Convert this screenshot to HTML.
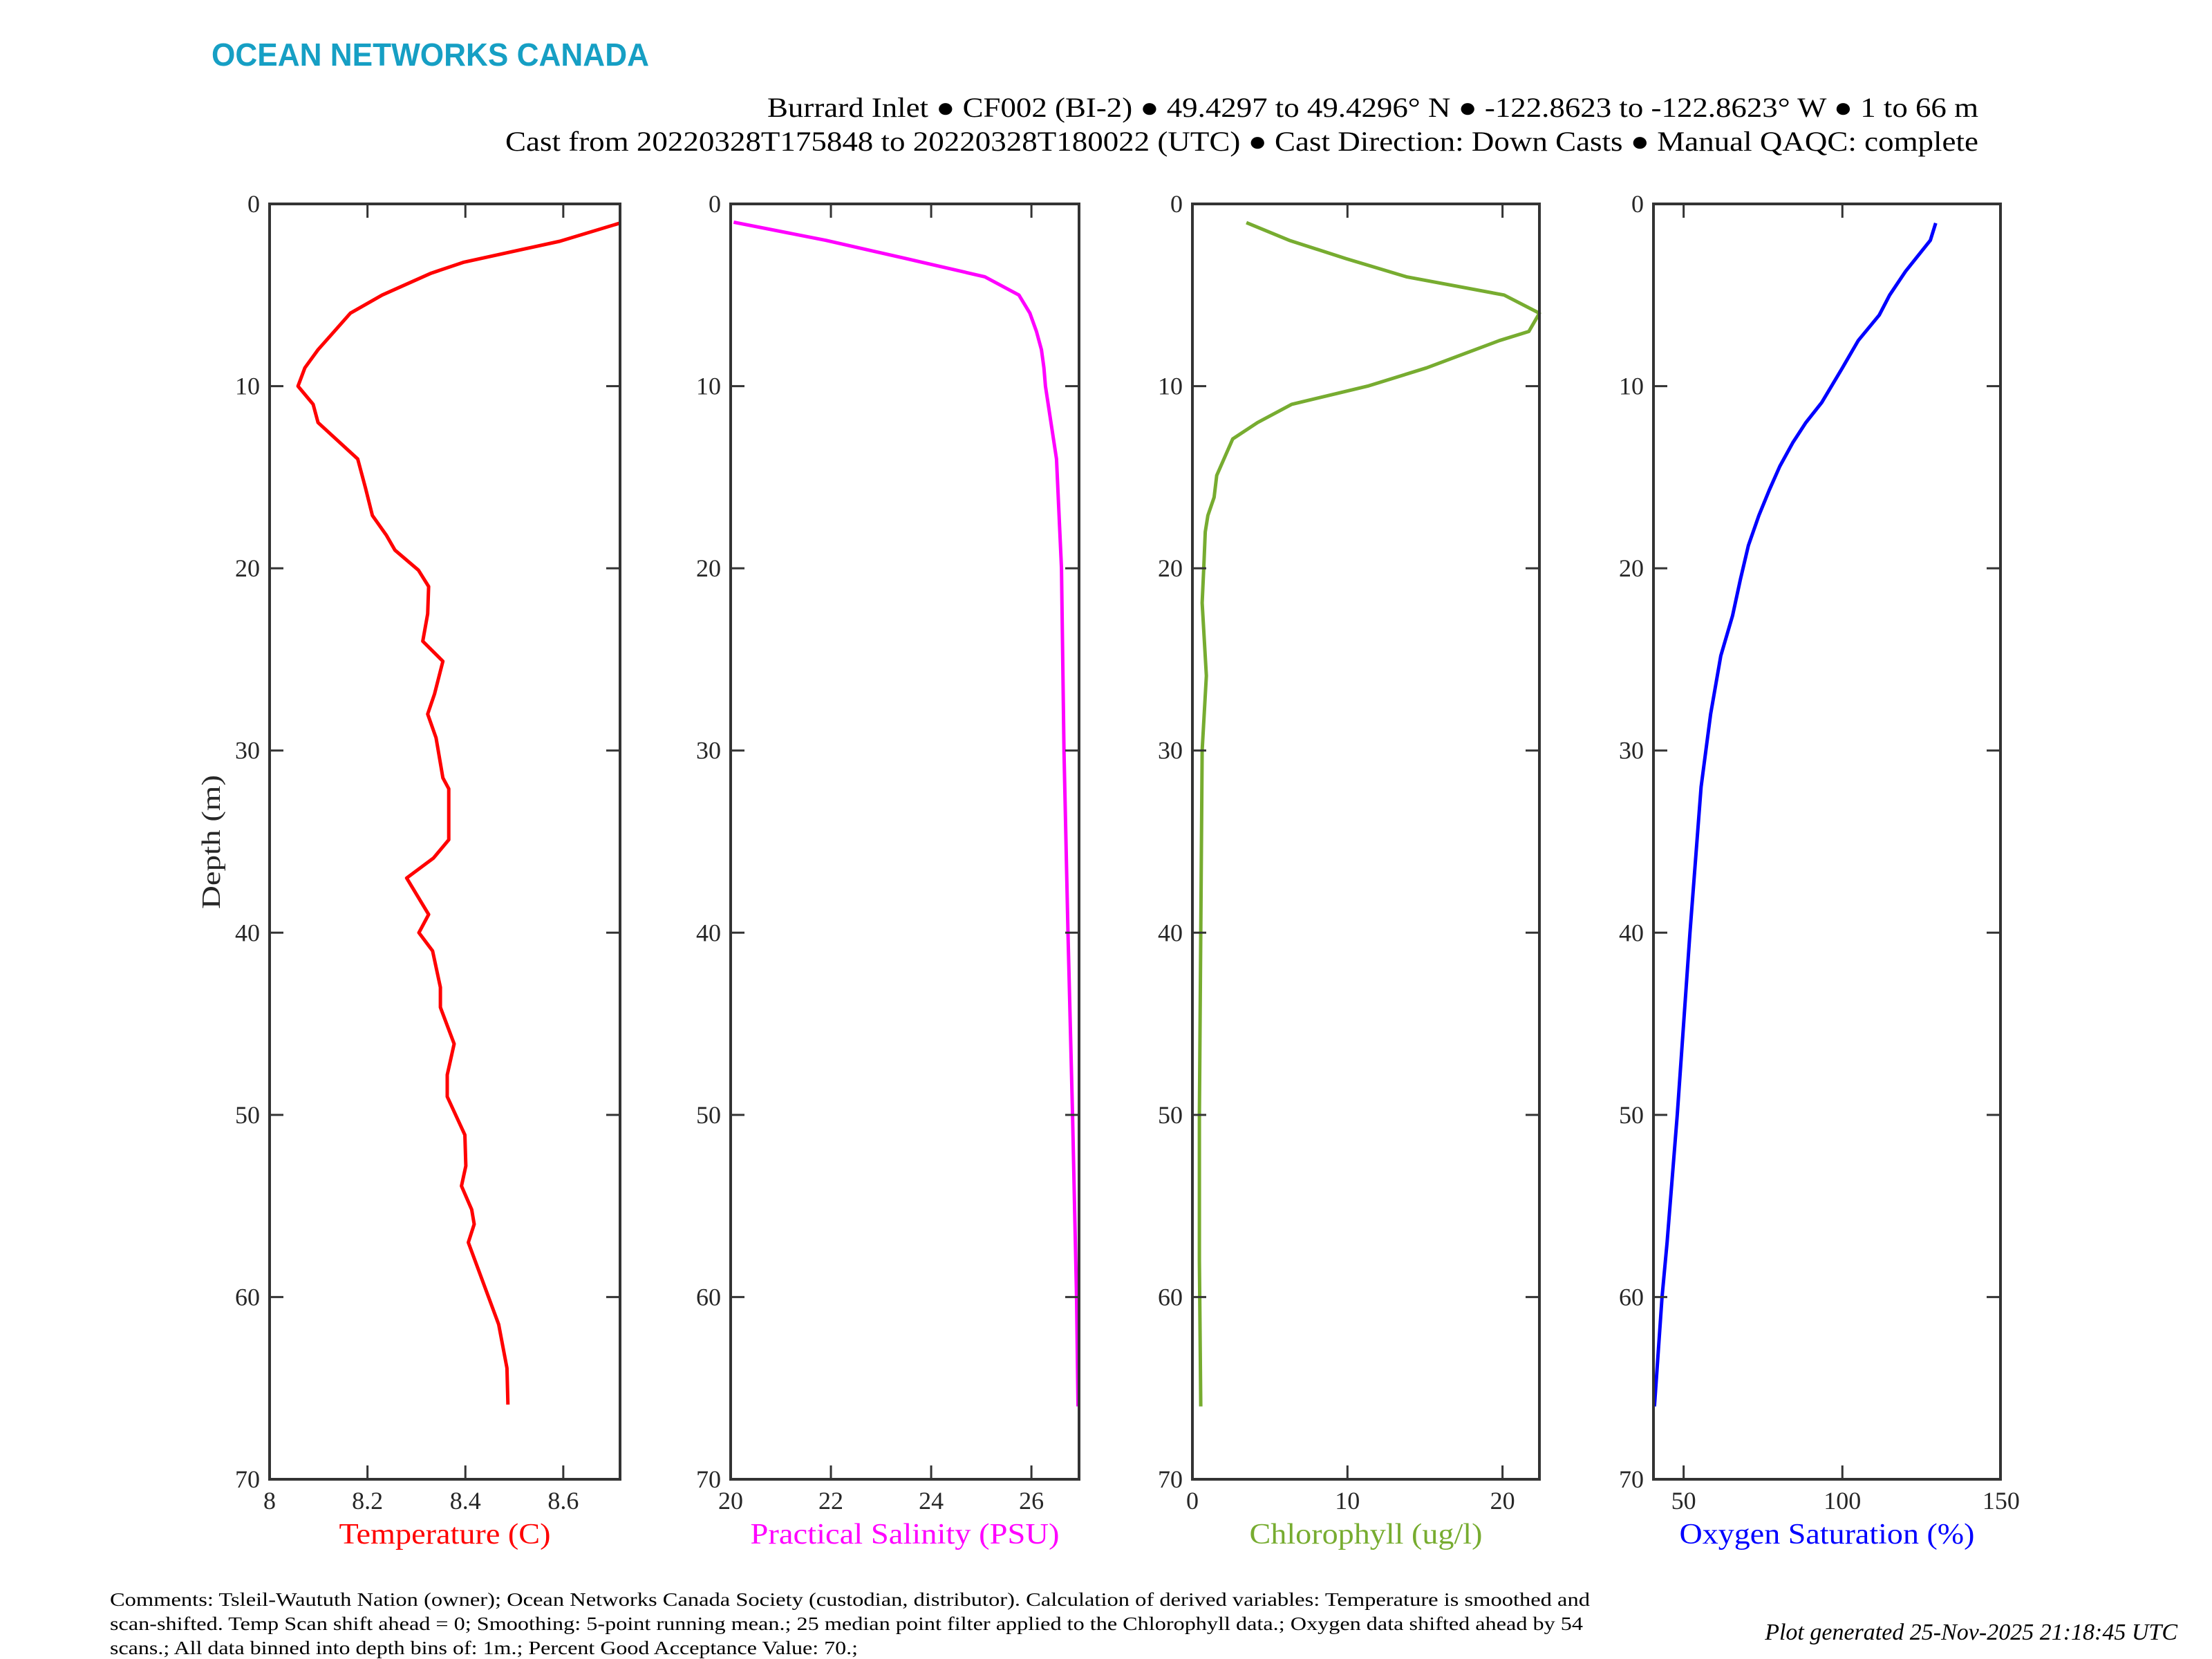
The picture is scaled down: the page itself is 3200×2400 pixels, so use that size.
<!DOCTYPE html>
<html><head><meta charset="utf-8"><style>
html,body{margin:0;padding:0;background:#fff;}
svg{display:block;}
text{font-family:"Liberation Serif",serif;}
</style></head><body>
<svg id="s" width="3200" height="2400" viewBox="0 0 3200 2400" xmlns="http://www.w3.org/2000/svg">
<rect width="3200" height="2400" fill="#fff"/>
<text x="306" y="95" style="font-family:'Liberation Sans',sans-serif" font-weight="bold" font-size="46" fill="#169fc4" textLength="633" lengthAdjust="spacingAndGlyphs">OCEAN NETWORKS CANADA</text>
<text x="2862" y="169" font-size="40" text-anchor="end" textLength="1752" lengthAdjust="spacingAndGlyphs">Burrard Inlet ● CF002 (BI-2) ● 49.4297 to 49.4296° N ● -122.8623 to -122.8623° W ● 1 to 66 m</text>
<text x="2862" y="218" font-size="40" text-anchor="end" textLength="2131" lengthAdjust="spacingAndGlyphs">Cast from 20220328T175848 to 20220328T180022 (UTC) ● Cast Direction: Down Casts ● Manual QAQC: complete</text>
<text transform="translate(318,1218) rotate(-90)" font-size="38" text-anchor="middle" fill="#262626" textLength="194" lengthAdjust="spacingAndGlyphs">Depth (m)</text>
<g id="plots"></g>
<text x="159" y="2323" font-size="27" textLength="2141" lengthAdjust="spacingAndGlyphs">Comments: Tsleil-Waututh Nation (owner); Ocean Networks Canada Society (custodian, distributor). Calculation of derived variables: Temperature is smoothed and</text>
<text x="159" y="2358" font-size="27" textLength="2131" lengthAdjust="spacingAndGlyphs">scan-shifted. Temp Scan shift ahead = 0; Smoothing: 5-point running mean.; 25 median point filter applied to the Chlorophyll data.; Oxygen data shifted ahead by 54</text>
<text x="159" y="2393" font-size="27" textLength="1082" lengthAdjust="spacingAndGlyphs">scans.; All data binned into depth bins of: 1m.; Percent Good Acceptance Value: 70.;</text>
<text x="3150" y="2372" font-size="34" font-style="italic" text-anchor="end">Plot generated 25-Nov-2025 21:18:45 UTC</text>
</svg>
<script>
var NS="http://www.w3.org/2000/svg",g=document.getElementById("plots");
function el(t,a,txt){var e=document.createElementNS(NS,t);for(var k in a)e.setAttribute(k,a[k]);if(txt!==undefined)e.textContent=txt;g.appendChild(e);return e;}
var Y0=295,Y1=2140;function Y(d){return Y0+(Y1-Y0)*d/70;}
var panels=[
{x0:390,x1:897,min:8,max:8.716,ticks:[8,8.2,8.4,8.6],lab:["8","8.2","8.4","8.6"],name:"Temperature (C)",tl:306,col:"#ff0000",
data:[[1.05,8.716],[2.05,8.593],[3.2,8.397],[3.8,8.33],[5,8.23],[6,8.165],[7,8.132],[8,8.099],[9,8.072],[10,8.058],[11,8.089],[12,8.099],[14,8.18],[15.6,8.196],[17.1,8.21],[18.2,8.239],[19,8.256],[20.1,8.304],[21,8.325],[22.5,8.323],[24,8.313],[25.1,8.354],[26.9,8.337],[28,8.323],[29.3,8.34],[31.5,8.354],[32.1,8.366],[34.9,8.366],[35.9,8.335],[37,8.28],[39,8.325],[40,8.305],[41,8.333],[43,8.349],[44.1,8.349],[46.1,8.377],[47.8,8.363],[49,8.363],[51.1,8.399],[52.8,8.401],[53.9,8.392],[55.2,8.413],[56,8.418],[57,8.406],[59.1,8.435],[61.5,8.468],[63.9,8.485],[65.9,8.487]]},
{x0:1057,x1:1561,min:20,max:26.95,ticks:[20,22,24,26],lab:["20","22","24","26"],name:"Practical Salinity (PSU)",tl:447,col:"#ff00ff",
data:[[1,20.06],[2,21.9],[3,23.5],[4,25.07],[5,25.75],[6,25.97],[7,26.1],[8,26.2],[9,26.25],[10,26.28],[14,26.5],[20,26.6],[30,26.65],[40,26.73],[50,26.82],[60,26.9],[66,26.93]]},
{x0:1725,x1:2227,min:0,max:22.38,ticks:[0,10,20],lab:["0","10","20"],name:"Chlorophyll (ug/l)",tl:337,col:"#77ac30",
data:[[1.03,3.48],[2,6.25],[3,9.9],[4,13.8],[5,20.1],[6,22.38],[7,21.7],[7.5,19.8],[9,15.1],[10,11.3],[11,6.4],[12,4.2],[12.9,2.6],[14.9,1.57],[16.1,1.4],[17.1,1.0],[18,0.83],[20,0.73],[21.9,0.63],[25.9,0.9],[30,0.63],[40,0.54],[50,0.45],[58,0.45],[66,0.54]]},
{x0:2392,x1:2894,min:40.5,max:149.8,ticks:[50,100,150],lab:["50","100","150"],name:"Oxygen Saturation (%)",tl:427,col:"#0000ff",
data:[[1.05,129.4],[2,127.7],[3.7,119.9],[5,114.9],[6.1,111.6],[7.5,105],[9,100],[10.9,93.5],[12,88.5],[13.1,84.4],[14.4,80.3],[15.7,77],[17.1,73.7],[18.75,70.4],[20.6,67.9],[22.6,65.4],[24.8,61.7],[28,58.5],[32,55.5],[40,52],[50,48],[57,44.8],[60,43.2],[64,41.6],[66,40.8]]}
];
panels.forEach(function(p){
 function X(v){return p.x0+(p.x1-p.x0)*(v-p.min)/(p.max-p.min);}
 var pts=p.data.map(function(q){return X(q[1]).toFixed(1)+","+Y(q[0]).toFixed(1);}).join(" ");
 el("polyline",{points:pts,fill:"none",stroke:p.col,"stroke-width":5,"stroke-linejoin":"round"});
 for(var d=10;d<70;d+=10){el("line",{x1:p.x0,x2:p.x0+20,y1:Y(d),y2:Y(d),stroke:"#333","stroke-width":3});el("line",{x1:p.x1,x2:p.x1-20,y1:Y(d),y2:Y(d),stroke:"#333","stroke-width":3});}
 for(var d=0;d<=70;d+=10){el("text",{x:p.x0-14,y:Y(d)+12,"font-size":36,"text-anchor":"end",fill:"#262626"},String(d));}
 p.ticks.forEach(function(t,i){var x=X(t);
  if(x>p.x0+3&&x<p.x1-3){el("line",{x1:x,x2:x,y1:Y0,y2:Y0+20,stroke:"#333","stroke-width":3});el("line",{x1:x,x2:x,y1:Y1,y2:Y1-20,stroke:"#333","stroke-width":3});}
  el("text",{x:x,y:2183,"font-size":36,"text-anchor":"middle",fill:"#262626"},p.lab[i]);});
 el("rect",{x:p.x0,y:Y0,width:p.x1-p.x0,height:Y1-Y0,fill:"none",stroke:"#333","stroke-width":4});
 el("text",{x:(p.x0+p.x1)/2,y:2233,"font-size":42,"text-anchor":"middle",fill:p.col,textLength:p.tl,lengthAdjust:"spacingAndGlyphs"},p.name);
});
</script>
</body></html>
